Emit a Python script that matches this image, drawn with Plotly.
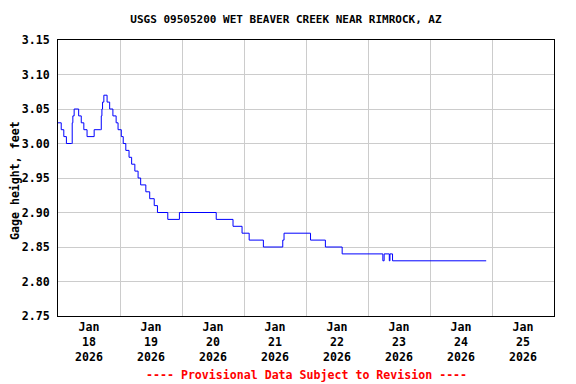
import plotly.graph_objects as go

# Step-change readings (time, gage height in feet)
times = [
    "2026-01-18 00:00", "2026-01-18 01:15", "2026-01-18 02:15", "2026-01-18 03:15",
    "2026-01-18 05:15", "2026-01-18 05:30", "2026-01-18 05:45", "2026-01-18 06:15",
    "2026-01-18 08:00", "2026-01-18 09:00", "2026-01-18 10:00", "2026-01-18 11:15",
    "2026-01-18 14:00", "2026-01-18 16:30", "2026-01-18 16:45", "2026-01-18 17:00",
    "2026-01-18 17:15", "2026-01-18 17:45", "2026-01-18 19:00", "2026-01-18 20:00",
    "2026-01-18 21:15", "2026-01-18 22:30", "2026-01-18 23:15", "2026-01-19 00:30",
    "2026-01-19 01:15", "2026-01-19 02:15", "2026-01-19 03:30", "2026-01-19 04:30",
    "2026-01-19 05:45", "2026-01-19 07:00", "2026-01-19 08:00", "2026-01-19 10:00",
    "2026-01-19 11:30", "2026-01-19 13:15", "2026-01-19 14:30", "2026-01-19 18:30",
    "2026-01-19 23:00", "2026-01-20 13:15", "2026-01-20 19:45", "2026-01-20 23:15",
    "2026-01-21 02:00", "2026-01-21 07:30", "2026-01-21 15:00", "2026-01-21 15:30",
    "2026-01-22 01:45", "2026-01-22 07:30", "2026-01-22 14:00", "2026-01-23 05:45",
    "2026-01-23 06:15", "2026-01-23 08:15", "2026-01-23 08:30", "2026-01-23 09:30",
    "2026-01-24 21:45",
]
heights = [
    3.03, 3.02, 3.01, 3.00,
    3.00, 3.03, 3.04, 3.05,
    3.04, 3.03, 3.02, 3.01,
    3.02, 3.02, 3.04, 3.05,
    3.06, 3.07, 3.06, 3.05,
    3.04, 3.03, 3.02, 3.01,
    3.00, 2.99, 2.98, 2.97,
    2.96, 2.95, 2.94, 2.93,
    2.92, 2.91, 2.90, 2.89,
    2.90, 2.89, 2.88, 2.87,
    2.86, 2.85, 2.86, 2.87,
    2.86, 2.85, 2.84, 2.83,
    2.84, 2.83, 2.84, 2.83,
    2.83,
]

tick_days = ["18", "19", "20", "21", "22", "23", "24", "25"]
tick_month = "Jan"
tick_year = "2026"
tick_vals = [f"2026-01-{d} 12:00" for d in tick_days]
tick_text = [f"{tick_month}<br>{d}<br>{tick_year}" for d in tick_days]

y_ticks = [2.75, 2.80, 2.85, 2.90, 2.95, 3.00, 3.05, 3.10, 3.15]

title_text = "USGS 09505200 WET BEAVER CREEK NEAR RIMROCK, AZ"
y_title = "Gage height, feet"
footer = "---- Provisional Data Subject to Revision ----"

FONT = "DejaVu Sans Mono"
grid = "#cccccc"

# The page body has an 8px margin, so the figure is drawn 8px in from the
# window's top-left corner; size it to fit inside the 576x384 window.
OFF = 8
W, H = 576 - OFF, 384 - OFF
L, T = 58 - OFF, 40 - OFF
R = W - (554 - OFF)
B = H - (316 - OFF)
PH = H - T - B
PW = W - L - R

fig = go.Figure()
fig.add_trace(go.Scatter(
    x=times, y=heights, mode="lines", line_shape="hv",
    line=dict(color="#0000ff", width=1), showlegend=False, hoverinfo="skip",
))

fig.update_layout(
    width=W, height=H, autosize=False,
    margin=dict(l=L, r=R, t=T, b=B, pad=0),
    paper_bgcolor="white", plot_bgcolor="white",
    font=dict(family=FONT, color="black", size=11),
    title=dict(text=f"<b>{title_text}</b>", x=(286 - OFF) / W, xanchor="center",
               y=1 - (19 - OFF) / H, yanchor="middle",
               font=dict(family=FONT, size=11, color="black")),
    xaxis=dict(
        range=["2026-01-18 00:00", "2026-01-26 00:00"],
        tickmode="array", tickvals=tick_vals,
        ticktext=[f"<b>{t}</b>" for t in tick_text],
        showgrid=False, ticks="", zeroline=False,
        showline=True, linecolor="black", linewidth=1, mirror=True,
        tickfont=dict(family=FONT, size=11.6, color="black"),
        minor=dict(tick0="2026-01-18", dtick=86400000, showgrid=True,
                   gridcolor=grid, gridwidth=1, ticks=""),
    ),
    yaxis=dict(
        range=[2.75, 3.15], tickmode="array", tickvals=y_ticks,
        ticktext=[f"<b>{v:.2f}</b>" for v in y_ticks],
        showgrid=True, gridcolor=grid, gridwidth=1, zeroline=False,
        showline=True, linecolor="black", linewidth=1, mirror=True,
        ticks="", ticklabelstandoff=5,
        tickfont=dict(family=FONT, size=11.6, color="black"),
    ),
    annotations=[
        dict(text=f"<b>{y_title}</b>", xref="paper", yref="paper",
             x=(15 - 58) / PW, y=(316 - 181) / PH, xanchor="center", yanchor="middle",
             textangle=-90, showarrow=False,
             font=dict(family=FONT, size=11.6, color="black")),
        dict(text=f"<b>{footer}</b>", xref="paper", yref="paper",
             x=(306 - 58) / PW, y=(316 - 375) / PH, xanchor="center", yanchor="middle",
             showarrow=False, font=dict(family=FONT, size=11.6, color="red")),
    ],
)

fig.write_html("out.html")
